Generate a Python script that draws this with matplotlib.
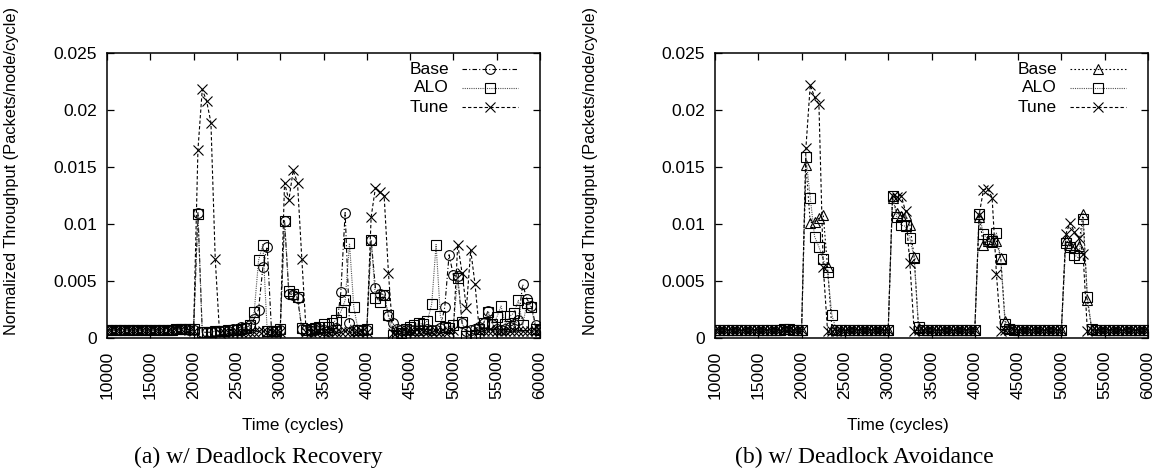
import matplotlib
matplotlib.use("Agg")
import matplotlib.pyplot as plt
from matplotlib.lines import Line2D
import numpy as np

plt.rcParams['font.family'] = ['Liberation Sans', 'DejaVu Sans']

# ---------------- data ----------------
time_cycles = list(range(10000, 60001, 500))  # 101 samples

# (a) w/ Deadlock Recovery
rec_base = [
    0.0007, 0.0007, 0.0007, 0.0007, 0.0007, 0.0007, 0.0007, 0.0007, 0.0007, 0.0007,
    0.0007, 0.0007, 0.0007, 0.0007, 0.0007, 0.0007, 0.0008, 0.0008, 0.0008, 0.0007,
    0.0007, 0.0110, 0.0005, 0.0005, 0.0005, 0.0006, 0.0006, 0.0006, 0.0006, 0.0008,
    0.0008, 0.0010, 0.0009, 0.0011, 0.0017, 0.0025, 0.0062, 0.0080, 0.0006, 0.0006,
    0.0007, 0.0103, 0.0039, 0.0038, 0.0035, 0.0008, 0.0007, 0.0006, 0.0007, 0.0008,
    0.0007, 0.0006, 0.0007, 0.0009, 0.0040, 0.0110, 0.0013, 0.0007, 0.0007, 0.0007,
    0.0007, 0.0086, 0.0044, 0.0039, 0.0038, 0.0019, 0.0013, 0.0008, 0.0007, 0.0007,
    0.0007, 0.0007, 0.0007, 0.0007, 0.0008, 0.0007, 0.0007, 0.0009, 0.0027, 0.0073,
    0.0055, 0.0054, 0.0013, 0.0006, 0.0007, 0.0008, 0.0010, 0.0013, 0.0024, 0.0012,
    0.0008, 0.0007, 0.0008, 0.0010, 0.0012, 0.0016, 0.0047, 0.0034, 0.0028, 0.0011,
    0.0007,
]
rec_alo = [
    0.0007, 0.0007, 0.0007, 0.0007, 0.0007, 0.0007, 0.0007, 0.0007, 0.0007, 0.0007,
    0.0007, 0.0007, 0.0007, 0.0007, 0.0007, 0.0007, 0.0008, 0.0008, 0.0008, 0.0008,
    0.0008, 0.0109, 0.0005, 0.0005, 0.0005, 0.0006, 0.0006, 0.0006, 0.0007, 0.0007,
    0.0007, 0.0008, 0.0009, 0.0011, 0.0023, 0.0068, 0.0082, 0.0006, 0.0006, 0.0006,
    0.0008, 0.0103, 0.0041, 0.0039, 0.0036, 0.0009, 0.0007, 0.0008, 0.0009, 0.0010,
    0.0012, 0.0010, 0.0013, 0.0016, 0.0023, 0.0033, 0.0083, 0.0027, 0.0007, 0.0007,
    0.0008, 0.0086, 0.0035, 0.0032, 0.0038, 0.0020, 0.0003, 0.0002, 0.0004, 0.0008,
    0.0010, 0.0011, 0.0013, 0.0012, 0.0015, 0.0030, 0.0082, 0.0019, 0.0010, 0.0009,
    0.0011, 0.0053, 0.0014, 0.0002, 0.0002, 0.0003, 0.0008, 0.0013, 0.0023, 0.0012,
    0.0018, 0.0028, 0.0012, 0.0019, 0.0022, 0.0033, 0.0011, 0.0031, 0.0027, 0.0008,
    0.0007,
]
rec_tune = [
    0.0007, 0.0007, 0.0007, 0.0007, 0.0007, 0.0007, 0.0007, 0.0007, 0.0007, 0.0007,
    0.0007, 0.0007, 0.0007, 0.0007, 0.0007, 0.0007, 0.0008, 0.0008, 0.0008, 0.0007,
    0.0006, 0.0165, 0.0218, 0.0208, 0.0189, 0.0069, 0.0004, 0.0005, 0.0005, 0.0005,
    0.0005, 0.0005, 0.0005, 0.0005, 0.0005, 0.0006, 0.0006, 0.0005, 0.0005, 0.0005,
    0.0005, 0.0136, 0.0121, 0.0147, 0.0136, 0.0069, 0.0005, 0.0005, 0.0005, 0.0006,
    0.0005, 0.0005, 0.0006, 0.0005, 0.0005, 0.0006, 0.0005, 0.0005, 0.0005, 0.0006,
    0.0005, 0.0106, 0.0132, 0.0128, 0.0125, 0.0057, 0.0004, 0.0005, 0.0005, 0.0005,
    0.0006, 0.0005, 0.0005, 0.0006, 0.0005, 0.0005, 0.0006, 0.0005, 0.0005, 0.0006,
    0.0007, 0.0082, 0.0057, 0.0026, 0.0077, 0.0047, 0.0006, 0.0006, 0.0006, 0.0006,
    0.0006, 0.0006, 0.0006, 0.0006, 0.0006, 0.0006, 0.0006, 0.0006, 0.0006, 0.0006,
    0.0006,
]

# (b) w/ Deadlock Avoidance
avo_base = [
    0.0007, 0.0007, 0.0007, 0.0007, 0.0007, 0.0007, 0.0007, 0.0007, 0.0007, 0.0007,
    0.0007, 0.0007, 0.0007, 0.0007, 0.0007, 0.0007, 0.0008, 0.0008, 0.0007, 0.0007,
    0.0007, 0.0152, 0.0101, 0.0102, 0.0105, 0.0108, 0.0062, 0.0008, 0.0007, 0.0007,
    0.0007, 0.0007, 0.0007, 0.0007, 0.0007, 0.0007, 0.0007, 0.0007, 0.0007, 0.0007,
    0.0007, 0.0123, 0.0110, 0.0107, 0.0108, 0.0099, 0.0071, 0.0009, 0.0007, 0.0007,
    0.0007, 0.0007, 0.0007, 0.0007, 0.0007, 0.0007, 0.0007, 0.0007, 0.0007, 0.0007,
    0.0007, 0.0106, 0.0082, 0.0085, 0.0084, 0.0085, 0.0070, 0.0015, 0.0009, 0.0008,
    0.0007, 0.0007, 0.0007, 0.0007, 0.0007, 0.0007, 0.0007, 0.0007, 0.0007, 0.0007,
    0.0007, 0.0086, 0.0082, 0.0079, 0.0081, 0.0109, 0.0033, 0.0008, 0.0007, 0.0007,
    0.0007, 0.0007, 0.0007, 0.0007, 0.0007, 0.0007, 0.0007, 0.0007, 0.0007, 0.0007,
    0.0007,
]
avo_alo = [
    0.0007, 0.0007, 0.0007, 0.0007, 0.0007, 0.0007, 0.0007, 0.0007, 0.0007, 0.0007,
    0.0007, 0.0007, 0.0007, 0.0007, 0.0007, 0.0007, 0.0008, 0.0008, 0.0007, 0.0007,
    0.0007, 0.0159, 0.0123, 0.0089, 0.0080, 0.0069, 0.0058, 0.0020, 0.0007, 0.0007,
    0.0007, 0.0007, 0.0007, 0.0007, 0.0007, 0.0007, 0.0007, 0.0007, 0.0007, 0.0007,
    0.0007, 0.0125, 0.0106, 0.0099, 0.0098, 0.0088, 0.0070, 0.0010, 0.0007, 0.0007,
    0.0007, 0.0007, 0.0007, 0.0007, 0.0007, 0.0007, 0.0007, 0.0007, 0.0007, 0.0007,
    0.0007, 0.0109, 0.0091, 0.0087, 0.0085, 0.0092, 0.0069, 0.0012, 0.0008, 0.0007,
    0.0007, 0.0007, 0.0007, 0.0007, 0.0007, 0.0007, 0.0007, 0.0007, 0.0007, 0.0007,
    0.0007, 0.0083, 0.0080, 0.0073, 0.0070, 0.0104, 0.0036, 0.0008, 0.0007, 0.0007,
    0.0007, 0.0007, 0.0007, 0.0007, 0.0007, 0.0007, 0.0007, 0.0007, 0.0007, 0.0007,
    0.0007,
]
avo_tune = [
    0.0007, 0.0007, 0.0007, 0.0007, 0.0007, 0.0007, 0.0007, 0.0007, 0.0007, 0.0007,
    0.0007, 0.0007, 0.0007, 0.0007, 0.0007, 0.0007, 0.0008, 0.0008, 0.0007, 0.0007,
    0.0007, 0.0167, 0.0222, 0.0211, 0.0205, 0.0062, 0.0006, 0.0006, 0.0006, 0.0007,
    0.0007, 0.0007, 0.0007, 0.0007, 0.0007, 0.0007, 0.0007, 0.0007, 0.0007, 0.0007,
    0.0007, 0.0125, 0.0124, 0.0125, 0.0111, 0.0066, 0.0006, 0.0007, 0.0007, 0.0007,
    0.0007, 0.0007, 0.0007, 0.0007, 0.0007, 0.0007, 0.0007, 0.0007, 0.0007, 0.0007,
    0.0007, 0.0108, 0.0130, 0.0131, 0.0123, 0.0056, 0.0006, 0.0007, 0.0007, 0.0007,
    0.0007, 0.0007, 0.0007, 0.0007, 0.0007, 0.0007, 0.0007, 0.0007, 0.0007, 0.0007,
    0.0007, 0.0091, 0.0101, 0.0093, 0.0088, 0.0074, 0.0006, 0.0007, 0.0007, 0.0007,
    0.0007, 0.0007, 0.0007, 0.0007, 0.0007, 0.0007, 0.0007, 0.0007, 0.0007, 0.0007,
    0.0007,
]

series_names = ["Base", "ALO", "Tune"]
x_ticks = [10000, 15000, 20000, 25000, 30000, 35000, 40000, 45000, 50000, 55000, 60000]
y_ticks = [0, 0.005, 0.01, 0.015, 0.02, 0.025]
y_tick_labels = ["0", "0.005", "0.01", "0.015", "0.02", "0.025"]
x_label = "Time (cycles)"
y_label = "Normalized Throughput (Packets/node/cycle)"
captions = ["(a) w/ Deadlock Recovery", "(b) w/ Deadlock Avoidance"]

# ---------------- layout ----------------
W, H = 1154, 473
fig = plt.figure(figsize=(W / 100, H / 100), dpi=100)

def fx(px):
    return px / W

def fy(py):
    return 1 - py / H

FS = 12.5
LFS = 12.3
YLFS = 11.8

styles_a = [
    dict(ls=(0, (4, 2, 1, 2)), marker='o', color='black'),
    dict(ls=(0, (1, 1)), marker='s', color='#555555'),
    dict(ls=(0, (3, 2)), marker='x', color='black'),
]
styles_b = [
    dict(ls=(0, (1.5, 2)), marker='^', color='black'),
    dict(ls=(0, (1, 1)), marker='s', color='#555555'),
    dict(ls=(0, (3, 2)), marker='x', color='black'),
]

panels = [
    dict(left=107, data=[rec_base, rec_alo, rec_tune], styles=styles_a,
         ylab_x=12, xlab_x=293, cap_x=258, leg_text_x=449, leg_l0=462, leg_l1=518),
    dict(left=715, data=[avo_base, avo_alo, avo_tune], styles=styles_b,
         ylab_x=590, xlab_x=898, cap_x=864, leg_text_x=1057, leg_l0=1070, leg_l1=1126),
]

top, bottom, width = 53, 338, 433

for idx, p in enumerate(panels):
    ax = fig.add_axes([fx(p['left']), fy(bottom), width / W, (bottom - top) / H])
    for vals, st in zip(p['data'], p['styles']):
        ax.plot(time_cycles, vals, linestyle=st['ls'], color=st['color'], lw=0.8,
                marker=st['marker'], markersize=7, markerfacecolor='none',
                markeredgecolor='black', markeredgewidth=0.8)
    ax.set_xlim(10000, 60000)
    ax.set_ylim(0, 0.025)
    ax.set_xticks(x_ticks)
    ax.set_xticklabels([str(t) for t in x_ticks], rotation=90, fontsize=FS)
    ax.set_yticks(y_ticks)
    ax.set_yticklabels(y_tick_labels, fontsize=FS)
    ax.tick_params(direction='in', length=5, width=0.9, top=True, right=True)
    ax.tick_params(axis='x', pad=9)
    ax.tick_params(axis='y', pad=7)
    for sp in ax.spines.values():
        sp.set_linewidth(1.1)

    fig.text(fx(p['ylab_x']), fy(171), y_label, rotation=90, ha='center', va='center', fontsize=YLFS)
    fig.text(fx(p['xlab_x']), fy(425), x_label, ha='center', va='center', fontsize=LFS)
    fig.text(fx(p['cap_x']), fy(457), captions[idx], ha='center', va='center',
             fontsize=17, family='Liberation Serif')

    # gnuplot-like key (text right-aligned, sample to the right)
    for k, (name, st) in enumerate(zip(series_names, p['styles'])):
        yy = fy(69 + 19 * k)
        fig.text(fx(p['leg_text_x']), yy, name, ha='right', va='center', fontsize=FS)
        xm = (p['leg_l0'] + p['leg_l1']) / 2
        ln = Line2D([fx(p['leg_l0']), fx(xm), fx(p['leg_l1'])], [yy, yy, yy],
                    transform=fig.transFigure, linestyle=st['ls'], color=st['color'], lw=0.8,
                    marker=st['marker'], markevery=[1], markersize=7, markerfacecolor='none',
                    markeredgecolor='black', markeredgewidth=0.8)
        fig.add_artist(ln)

fig.savefig("out.png", dpi=100)
